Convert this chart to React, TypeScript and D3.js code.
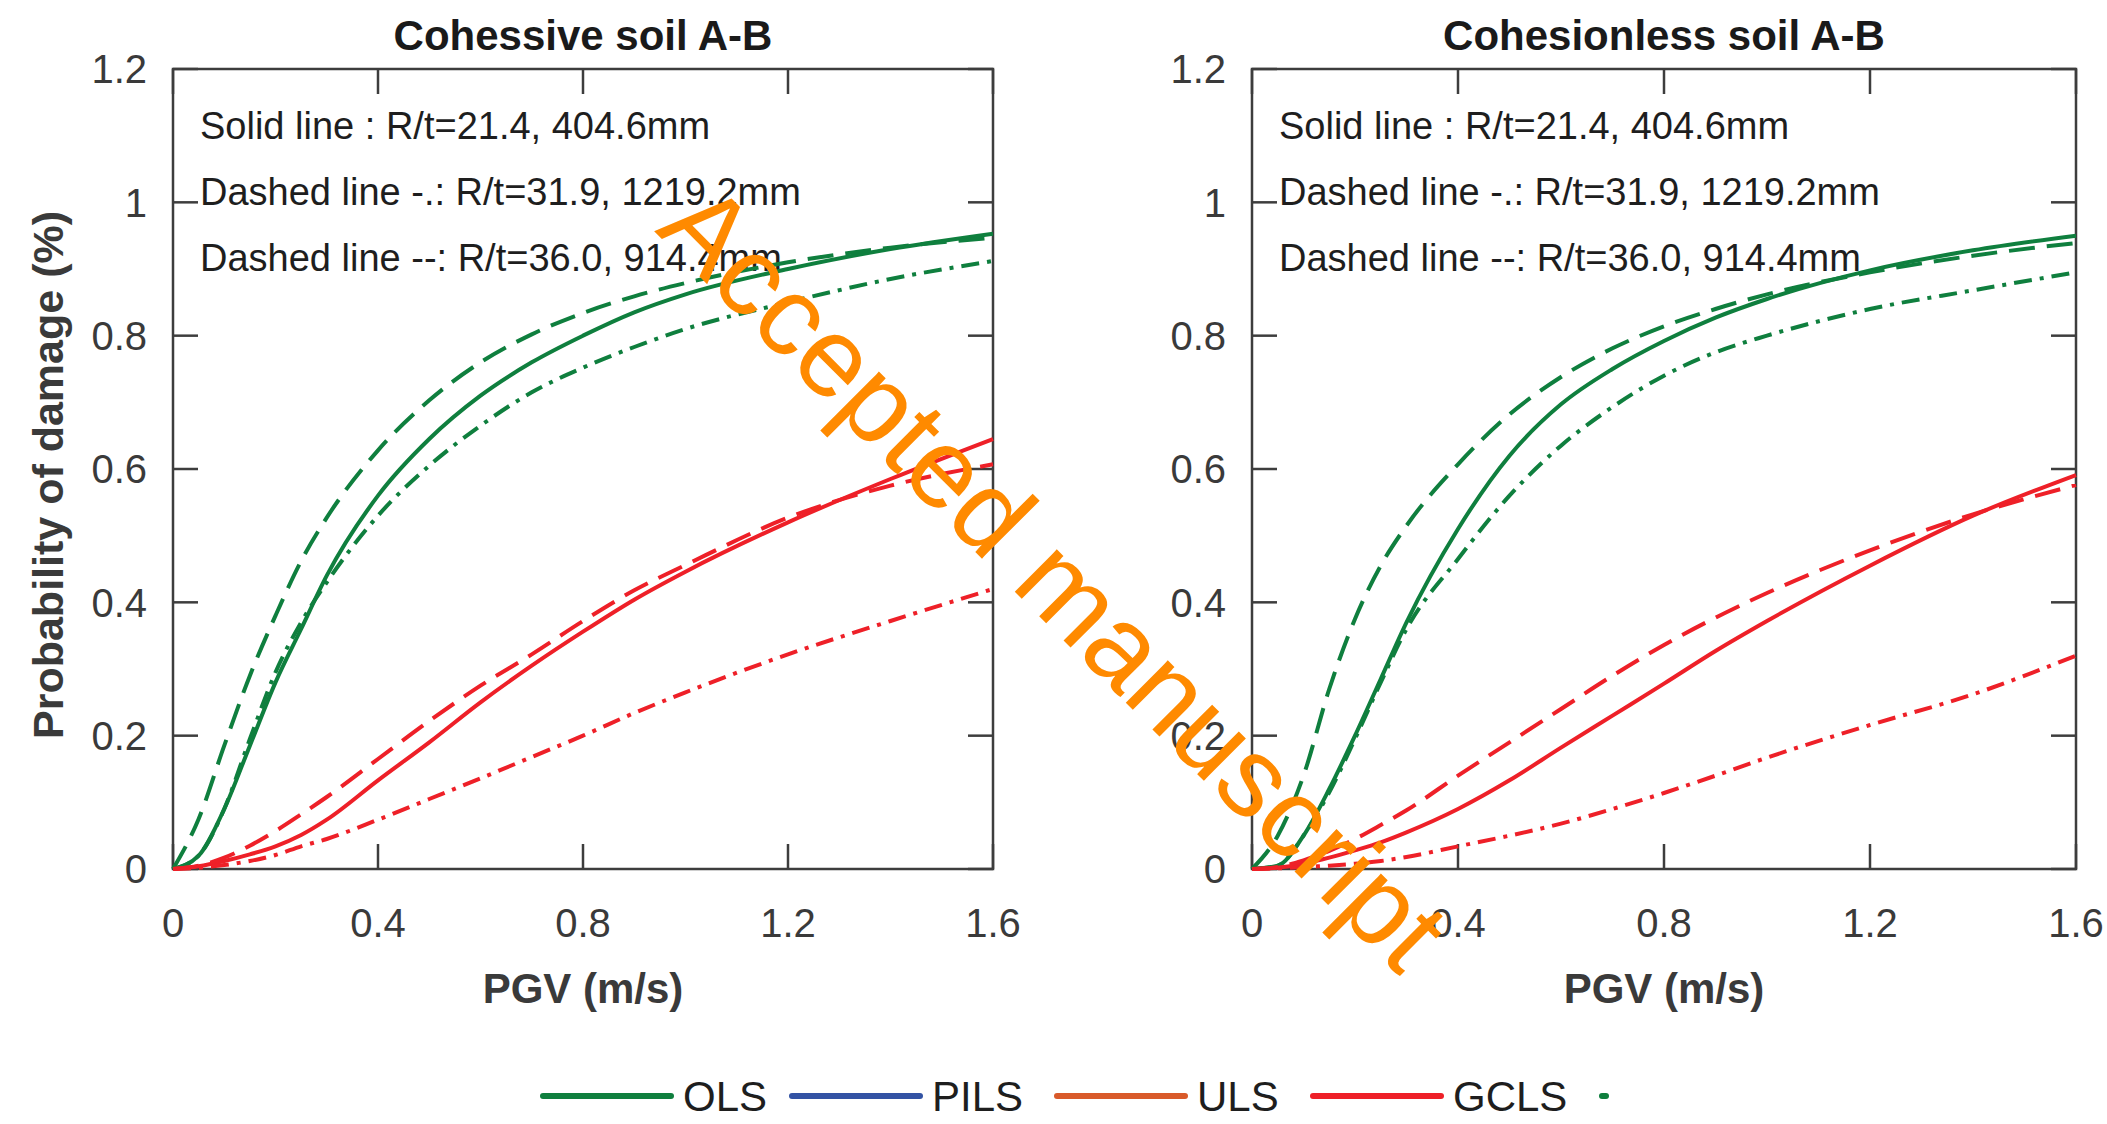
import * as d3 from 'd3';

// PGV grid (m/s) shared by every curve
const pgv = [0, 0.05, 0.1, 0.15, 0.2, 0.25, 0.3, 0.4, 0.5, 0.6, 0.7, 0.8, 0.9, 1.0, 1.2, 1.4, 1.6];

// Cohesive soil A-B
const cohOLS_214 = [0, 0.02, 0.09, 0.185, 0.28, 0.36, 0.44, 0.56, 0.645, 0.71, 0.76, 0.8, 0.835, 0.862, 0.9, 0.93, 0.953];
const cohOLS_319 = [0, 0.02, 0.09, 0.195, 0.295, 0.37, 0.43, 0.53, 0.605, 0.665, 0.715, 0.752, 0.783, 0.81, 0.85, 0.885, 0.912];
const cohOLS_360 = [0, 0.075, 0.185, 0.29, 0.38, 0.462, 0.527, 0.628, 0.703, 0.76, 0.802, 0.834, 0.859, 0.879, 0.91, 0.932, 0.947];
const cohGCLS_214 = [0, 0.004, 0.012, 0.022, 0.034, 0.051, 0.074, 0.133, 0.19, 0.25, 0.305, 0.356, 0.404, 0.446, 0.52, 0.585, 0.645];
const cohGCLS_319 = [0, 0.002, 0.006, 0.012, 0.021, 0.034, 0.045, 0.074, 0.105, 0.136, 0.168, 0.2, 0.234, 0.265, 0.322, 0.372, 0.42];
const cohGCLS_360 = [0, 0.005, 0.017, 0.035, 0.057, 0.082, 0.108, 0.165, 0.222, 0.275, 0.322, 0.372, 0.418, 0.456, 0.527, 0.575, 0.607];

// Cohesionless soil A-B
const nonOLS_214 = [0, 0.005, 0.05, 0.12, 0.2, 0.285, 0.37, 0.51, 0.62, 0.697, 0.75, 0.792, 0.827, 0.855, 0.898, 0.928, 0.95];
const nonOLS_319 = [0, 0.005, 0.05, 0.115, 0.195, 0.28, 0.36, 0.465, 0.56, 0.635, 0.693, 0.74, 0.775, 0.8, 0.84, 0.868, 0.895];
const nonOLS_360 = [0, 0.05, 0.14, 0.27, 0.375, 0.455, 0.515, 0.607, 0.682, 0.738, 0.781, 0.814, 0.84, 0.862, 0.895, 0.92, 0.939];
const nonGCLS_214 = [0, 0.002, 0.008, 0.017, 0.028, 0.04, 0.055, 0.09, 0.133, 0.182, 0.23, 0.278, 0.327, 0.372, 0.455, 0.53, 0.591];
const nonGCLS_319 = [0, 0.001, 0.003, 0.005, 0.008, 0.012, 0.018, 0.034, 0.05, 0.068, 0.09, 0.114, 0.14, 0.167, 0.216, 0.262, 0.32];
const nonGCLS_360 = [0, 0.003, 0.013, 0.027, 0.045, 0.066, 0.088, 0.14, 0.19, 0.24, 0.29, 0.336, 0.377, 0.414, 0.478, 0.532, 0.576];

const xTicks = [0, 0.4, 0.8, 1.2, 1.6];
const yTicks = [0, 0.2, 0.4, 0.6, 0.8, 1, 1.2];
const notes = [
  'Solid line : R/t=21.4, 404.6mm',
  'Dashed line -.: R/t=31.9, 1219.2mm',
  'Dashed line --: R/t=36.0, 914.4mm',
];
const legendNames = ['OLS', 'PILS', 'ULS', 'GCLS'];
const legendColors = ['#0f7f3e', '#3353a4', '#d95a2a', '#ee2028'];

const GREEN = '#0f7f3e';
const RED = '#ee2028';
const AXIS = '#3d3d3d';
const FONT = '"Liberation Sans", Arial, Helvetica, sans-serif';

const dashFor: Record<string, string | undefined> = {
  solid: undefined,
  dashdot: '18 8 4 8',
  dashed: '26 12',
};

const panels = [
  {
    title: 'Cohessive soil A-B',
    left: 173,
    right: 993,
    series: [
      { values: cohOLS_214, color: GREEN, style: 'solid' },
      { values: cohOLS_319, color: GREEN, style: 'dashdot' },
      { values: cohOLS_360, color: GREEN, style: 'dashed' },
      { values: cohGCLS_214, color: RED, style: 'solid' },
      { values: cohGCLS_319, color: RED, style: 'dashdot' },
      { values: cohGCLS_360, color: RED, style: 'dashed' },
    ],
    ylabel: true,
  },
  {
    title: 'Cohesionless soil A-B',
    left: 1252,
    right: 2076,
    series: [
      { values: nonOLS_214, color: GREEN, style: 'solid' },
      { values: nonOLS_319, color: GREEN, style: 'dashdot' },
      { values: nonOLS_360, color: GREEN, style: 'dashed' },
      { values: nonGCLS_214, color: RED, style: 'solid' },
      { values: nonGCLS_319, color: RED, style: 'dashdot' },
      { values: nonGCLS_360, color: RED, style: 'dashed' },
    ],
    ylabel: false,
  },
];

const TOP = 69;
const BOTTOM = 869;
const TICK = 25;

function Panel({ p }: { p: typeof panels[0] }) {
  const x = d3.scaleLinear().domain([0, 1.6]).range([p.left, p.right]);
  const y = d3.scaleLinear().domain([0, 1.2]).range([BOTTOM, TOP]);
  const line = d3.line<number>()
    .x((_, i) => x(pgv[i]))
    .y(d => y(d))
    .curve(d3.curveMonotoneX);
  const cx = (p.left + p.right) / 2;
  const fmt = (v: number) => String(+v.toFixed(1));

  return (
    <g>
      <text x={cx} y={50} textAnchor="middle" fontSize={42} fontWeight="bold" fill="#1a1a1a">
        {p.title}
      </text>
      {/* axis box and inward ticks */}
      <rect x={p.left} y={TOP} width={p.right - p.left} height={BOTTOM - TOP}
        fill="none" stroke={AXIS} strokeWidth={2.5} />
      {xTicks.map(t => (
        <g key={'x' + t}>
          <line x1={x(t)} x2={x(t)} y1={BOTTOM} y2={BOTTOM - TICK} stroke={AXIS} strokeWidth={2.5} />
          <line x1={x(t)} x2={x(t)} y1={TOP} y2={TOP + TICK} stroke={AXIS} strokeWidth={2.5} />
          <text x={x(t)} y={937} textAnchor="middle" fontSize={40} fill="#3a3a3a">{fmt(t)}</text>
        </g>
      ))}
      {yTicks.map(t => (
        <g key={'y' + t}>
          <line x1={p.left} x2={p.left + TICK} y1={y(t)} y2={y(t)} stroke={AXIS} strokeWidth={2.5} />
          <line x1={p.right} x2={p.right - TICK} y1={y(t)} y2={y(t)} stroke={AXIS} strokeWidth={2.5} />
          <text x={p.left - 26} y={y(t)} dy="0.36em" textAnchor="end" fontSize={40} fill="#3a3a3a">{fmt(t)}</text>
        </g>
      ))}
      <text x={cx} y={1003} textAnchor="middle" fontSize={42} fontWeight="bold" fill="#3a3a3a">
        PGV (m/s)
      </text>
      {p.ylabel && (
        <text transform={`translate(63,${(TOP + BOTTOM) / 2 + 6}) rotate(-90)`} textAnchor="middle"
          fontSize={43} fontWeight="bold" fill="#3a3a3a">
          Probability of damage (%)
        </text>
      )}
      {notes.map((n, i) => (
        <text key={n} x={p.left + 27} y={139 + i * 66} fontSize={38} fill="#1e1e1e">{n}</text>
      ))}
      {p.series.map((s, i) => (
        <path key={i} d={line(s.values) || ''} fill="none" stroke={s.color}
          strokeWidth={4} strokeDasharray={dashFor[s.style]} />
      ))}
    </g>
  );
}

function Legend() {
  const lineX = [543, 792, 1057, 1313];
  const lineLen = 128;
  const ly = 1096;
  return (
    <g>
      {legendNames.map((n, i) => (
        <g key={n}>
          <line x1={lineX[i]} x2={lineX[i] + lineLen} y1={ly} y2={ly}
            stroke={legendColors[i]} strokeWidth={6} strokeLinecap="round" />
          <text x={lineX[i] + lineLen + 12} y={1111} fontSize={42} fill="#1e1e1e">{n}</text>
        </g>
      ))}
      <line x1={1602} x2={1606} y1={ly} y2={ly} stroke={GREEN} strokeWidth={6} strokeLinecap="round" />
    </g>
  );
}

export default function App() {
  return (
    <svg width={2107} height={1124} style={{ position: 'absolute', left: 0, top: 0, background: '#fff' }}
      fontFamily={FONT}>
      <rect width={2107} height={1124} fill="#fff" />
      {panels.map(p => <Panel key={p.title} p={p} />)}
      <Legend />
      <text transform="translate(1055,576) rotate(45)" textAnchor="middle" dy="0.35em"
        fontSize={113} fill="#ff8a00">
        Accepted manuscript
      </text>
    </svg>
  );
}
